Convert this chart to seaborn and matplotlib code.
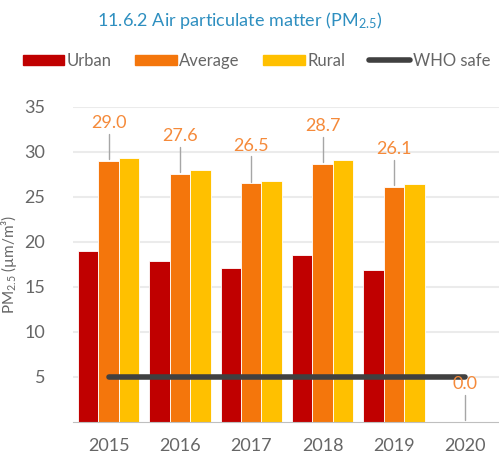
import numpy as np
import pandas as pd
import matplotlib
matplotlib.use("Agg")
import matplotlib.pyplot as plt
import seaborn as sns
from matplotlib.patches import Patch
from matplotlib.lines import Line2D

# data
years = ["2015", "2016", "2017", "2018", "2019", "2020"]
urban = [19.0, 17.9, 17.1, 18.5, 16.9, np.nan]
average = [29.0, 27.6, 26.5, 28.7, 26.1, 0.0]
rural = [29.3, 28.0, 26.8, 29.1, 26.4, np.nan]
who_safe = [5, 5, 5, 5, 5, 5]

series = ["Urban", "Average", "Rural"]
colors = ["#C00000", "#F4760C", "#FFC000"]

df = pd.DataFrame({"Year": years, "Urban": urban, "Average": average, "Rural": rural})
df_long = df.melt(id_vars="Year", var_name="Series", value_name="PM")

sns.set_style("white")
plt.rcParams["font.family"] = ["Lato", "DejaVu Sans"]
plt.rcParams["mathtext.fontset"] = "custom"
plt.rcParams["mathtext.rm"] = "Lato"
plt.rcParams["mathtext.it"] = "Lato"
plt.rcParams["mathtext.bf"] = "Lato"
plt.rcParams["mathtext.default"] = "rm"

fig = plt.figure(figsize=(4.99, 4.61), dpi=100)
ax = fig.add_axes([0.146, 0.085, 0.858, 0.683])

sns.barplot(data=df_long, x="Year", y="PM", hue="Series", hue_order=series,
            palette=colors, saturation=1, width=0.86, edgecolor="white", linewidth=0.6,
            legend=False, ax=ax, zorder=2)

# WHO safe line
ax.plot(np.arange(len(years)), who_safe, color="#404040", lw=4,
        solid_capstyle="round", zorder=4)

# labels for the average bars
for i, v in enumerate(average):
    ax.plot([i, i], [v + 0.2, v + 3.0], color="#A6A6A6", lw=1, zorder=3, clip_on=False)
    ax.text(i, v + 3.3, f"{v:.1f}", ha="center", va="bottom", color="#F58A3A",
            fontsize=13, zorder=5, clip_on=False)

ax.set_xlim(-0.5, 5.5)
ax.set_ylim(0, 35)
ax.set_yticks([5, 10, 15, 20, 25, 30, 35])
ax.yaxis.grid(True, color="#EBEBEB", lw=1.5, zorder=0)
ax.set_axisbelow(True)
for s in ["top", "right", "left"]:
    ax.spines[s].set_visible(False)
ax.spines["bottom"].set_color("#BFBFBF")
ax.set_xticks(np.arange(len(years)))
ax.set_xticklabels(years)
ax.set_xticks(np.arange(len(years) + 1) - 0.5, minor=True)
ax.tick_params(axis="x", which="major", length=0, labelsize=13, colors="#666666", pad=12)
ax.tick_params(axis="x", which="minor", length=6, color="#BFBFBF", direction="out")
ax.tick_params(axis="y", length=0, labelsize=13, colors="#666666", pad=20)
ax.set_xlabel("")
ax.set_ylabel("PM$_{2.5}$ (µm/m³)", fontsize=11, color="#666666")
ax.yaxis.set_label_coords(-0.125, 0.5)

fig.text(0.48, 0.955, "11.6.2 Air particulate matter (PM$_{2.5}$)", ha="center", va="center",
         fontsize=13, color="#2E8FC0")

handles = [Patch(color=c, label=s) for c, s in zip(colors, series)]
handles.append(Line2D([0], [0], color="#404040", lw=4, solid_capstyle="round", label="WHO safe"))
leg = fig.legend(handles=handles, loc="center", bbox_to_anchor=(0.514, 0.868), ncol=4,
                 frameon=False, fontsize=12, handlelength=2.5, handleheight=0.6,
                 handletextpad=0.15, columnspacing=1.4)
for t in leg.get_texts():
    t.set_color("#666666")

fig.savefig("out.png", dpi=100)
